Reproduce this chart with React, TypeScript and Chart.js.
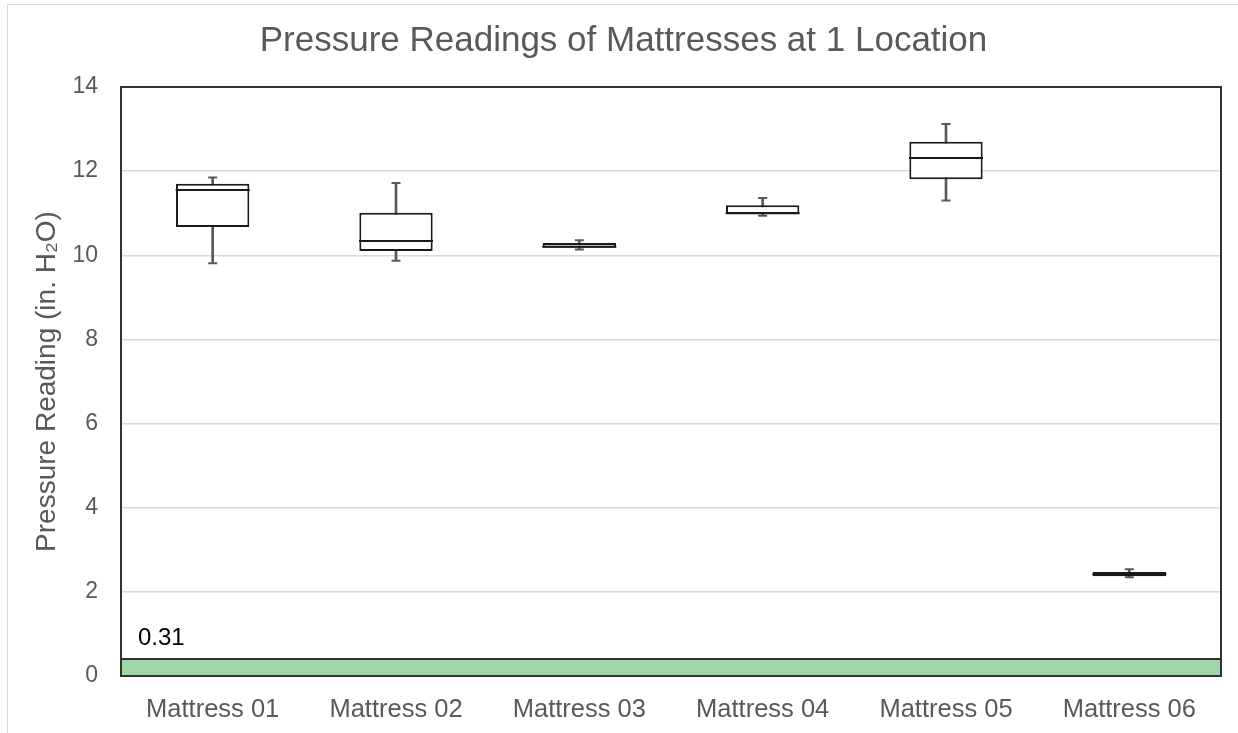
import { useEffect, useRef } from 'react';
import { Chart, registerables } from 'chart.js';
Chart.register(...registerables);

const categories = ['Mattress 01', 'Mattress 02', 'Mattress 03', 'Mattress 04', 'Mattress 05', 'Mattress 06'];
const mins = [9.81, 9.87, 10.14, 10.94, 11.3, 2.35];
const q1s = [10.67, 10.1, 10.18, 10.98, 11.81, 2.37];
const medians = [11.55, 10.34, 10.2, 11.0, 12.31, 2.42];
const q3s = [11.7, 11.01, 10.29, 11.19, 12.7, 2.47];
const maxs = [11.85, 11.72, 10.36, 11.36, 13.12, 2.54];
const bandTop = 0.42;
const bandLabel = '0.31';
const yTicks = [0, 2, 4, 6, 8, 10, 12, 14];

const FONT = "'Liberation Sans', Arial, sans-serif";
const GRAY = '#595959';

const framePlugin = {
  id: 'frameAndLabel',
  afterDraw(chart: any) {
    const { ctx, chartArea, scales } = chart;
    ctx.save();
    ctx.fillStyle = '#000';
    ctx.font = `24px ${FONT}`;
    ctx.textBaseline = 'middle';
    ctx.textAlign = 'left';
    ctx.fillText(bandLabel, chartArea.left + 17, scales.y.getPixelForValue(bandTop) - 20);
    ctx.strokeStyle = '#333';
    ctx.lineWidth = 2;
    ctx.strokeRect(chartArea.left, chartArea.top, chartArea.right - chartArea.left, chartArea.bottom - chartArea.top);
    ctx.restore();
  },
};

export default function App() {
  const ref = useRef<HTMLCanvasElement>(null);
  useEffect(() => {
    const chart = new Chart(ref.current as HTMLCanvasElement, {
      type: 'bar',
      data: {
        labels: categories,
        datasets: [
          {
            type: 'bar',
            label: 'band',
            xAxisID: 'xBand',
            data: [[0, bandTop]] as any,
            backgroundColor: '#a0d5aa',
            borderColor: '#333',
            borderWidth: { top: 2, left: 0, right: 0, bottom: 0 } as any,
            borderSkipped: false,
            barPercentage: 1,
            categoryPercentage: 1,
            grouped: false,
            order: 6,
          } as any,
          {
            type: 'bar',
            label: 'whisker',
            data: mins.map((m, i) => [m, maxs[i]]) as any,
            backgroundColor: GRAY,
            borderWidth: 0,
            barThickness: 2,
            grouped: false,
            order: 5,
          },
          {
            type: 'bar',
            label: 'box',
            data: q1s.map((q, i) => [q, q3s[i]]) as any,
            backgroundColor: '#fff',
            borderColor: '#1a1a1a',
            borderWidth: 2,
            borderSkipped: false,
            barPercentage: 0.4,
            categoryPercentage: 1,
            grouped: false,
            order: 4,
          },
          {
            type: 'line',
            label: 'median',
            data: medians,
            showLine: false,
            pointStyle: 'line',
            pointRadius: 37,
            pointHoverRadius: 37,
            pointBorderColor: '#1a1a1a',
            pointBorderWidth: 2,
            order: 1,
          } as any,
          {
            type: 'line',
            label: 'max cap',
            data: maxs,
            showLine: false,
            pointStyle: 'line',
            pointRadius: 4.5,
            pointHoverRadius: 4.5,
            pointBorderColor: GRAY,
            pointBorderWidth: 2,
            order: 2,
          } as any,
          {
            type: 'line',
            label: 'min cap',
            data: mins,
            showLine: false,
            pointStyle: 'line',
            pointRadius: 4.5,
            pointHoverRadius: 4.5,
            pointBorderColor: GRAY,
            pointBorderWidth: 2,
            order: 2,
          } as any,
        ],
      },
      options: {
        responsive: false,
        animation: false,
        layout: { autoPadding: false, padding: { left: 26, right: 17, top: 0, bottom: 0 } },
        plugins: {
          legend: { display: false },
          tooltip: { enabled: false },
          title: {
            display: true,
            text: 'Pressure Readings of Mattresses at 1 Location',
            color: GRAY,
            font: { family: FONT, size: 35, weight: 'normal' },
            padding: { top: 20, bottom: 25 },
          },
        },
        scales: {
          x: {
            offset: true,
            grid: { display: false, drawTicks: false },
            border: { display: false },
            ticks: { color: GRAY, font: { family: FONT, size: 25.5 }, padding: 19 },
            afterFit(scale: any) {
              scale.height = 57;
              scale.paddingLeft = 0;
              scale.paddingRight = 0;
            },
          },
          xBand: {
            type: 'category',
            labels: ['band'],
            offset: true,
            display: false,
          },
          y: {
            min: 0,
            max: 14,
            afterBuildTicks(scale: any) {
              scale.ticks = yTicks.map((v) => ({ value: v }));
            },
            grid: {
              drawTicks: false,
              lineWidth: 1.5,
              color: (c: any) => (c.tick && (c.tick.value === 0 || c.tick.value === 14) ? 'rgba(0,0,0,0)' : '#d9d9d9'),
            },
            border: { display: false },
            ticks: { color: GRAY, font: { family: FONT, size: 23 }, padding: 23 },
            title: {
              display: true,
              text: 'Pressure Reading (in. H₂O)',
              color: GRAY,
              font: { family: FONT, size: 28 },
              padding: { top: 4, bottom: 0 },
            },
            afterFit(scale: any) {
              scale.width = 95;
            },
          },
        },
      },
      plugins: [framePlugin],
    });
    return () => chart.destroy();
  }, []);
  return (
    <div style={{ position: 'fixed', left: 0, top: 0, width: 1238, height: 733, overflow: 'hidden', background: '#fff' }}>
      <div
        style={{
          position: 'absolute',
          left: 7,
          top: 4,
          width: 1300,
          height: 800,
          border: '1px solid #d9d9d9',
          boxSizing: 'border-box',
        }}
      />
      <canvas
        ref={ref}
        width={1238}
        height={733}
        style={{ position: 'absolute', left: 0, top: 0, width: 1238, height: 733 }}
      />
    </div>
  );
}
